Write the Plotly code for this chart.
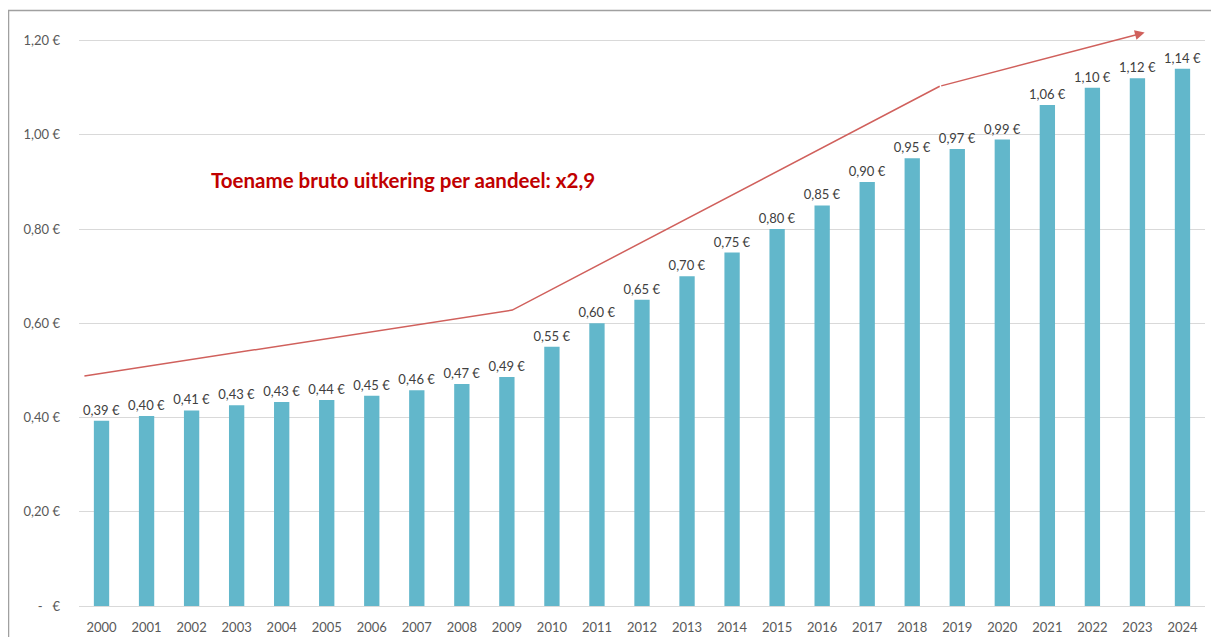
import plotly.graph_objects as go

years = [str(y) for y in range(2000, 2025)]
dividend = [0.393, 0.403, 0.415, 0.426, 0.433, 0.437, 0.446, 0.458, 0.471, 0.486,
            0.55, 0.60, 0.65, 0.70, 0.75, 0.80, 0.85, 0.90, 0.95, 0.97,
            0.99, 1.063, 1.10, 1.12, 1.14]
bar_labels = [f"{v:.2f}".replace(".", ",") + " €" for v in dividend]

y_tickvals = [0, 0.2, 0.4, 0.6, 0.8, 1.0, 1.2]
y_ticktext = ["-   €", "0,20 €", "0,40 €", "0,60 €", "0,80 €", "1,00 €", "1,20 €"]

# hand-drawn trend arrow (x in category index units, y in euro)
trend_x = [-0.38, 9.12, 18.61]
trend_y = [0.488, 0.628, 1.103]
arrow_tip = (23.16, 1.217)

title_text = "Toename bruto uitkering per aandeel: x2,9"

FONT = "Lato"

fig = go.Figure()
fig.add_trace(go.Bar(
    x=list(range(len(years))), y=dividend,
    marker=dict(color="#62B7CB", line=dict(width=0)),
    width=0.34,
    text=bar_labels, textposition="outside", constraintext="none",
    textfont=dict(family=FONT, size=13, color="#404040"),
    cliponaxis=False, hoverinfo="skip",
))
fig.add_trace(go.Scatter(
    x=trend_x, y=trend_y, mode="lines",
    line=dict(color="#D0605C", width=1.5),
    cliponaxis=False, hoverinfo="skip",
))
fig.add_annotation(
    x=arrow_tip[0], y=arrow_tip[1], ax=trend_x[-1], ay=trend_y[-1],
    xref="x", yref="y", axref="x", ayref="y",
    showarrow=True, arrowhead=2, arrowsize=1.3, arrowwidth=1.5,
    arrowcolor="#D0605C", text="",
)
fig.add_annotation(
    x=6.70, y=0.905, xref="x", yref="y", text=f"<b>{title_text}</b>",
    showarrow=False, font=dict(family=FONT, size=20.5, color="#C00000"),
)
# outer chart border (partially cropped)
fig.add_shape(type="rect", xref="paper", yref="paper",
              x0=-0.0626, x1=1.05, y0=-0.2, y1=1.0112,
              line=dict(color="#A0A0A0", width=1.5))

fig.update_layout(
    width=1211, height=629,
    margin=dict(l=70.5, r=13.5, t=8.6, b=31),
    paper_bgcolor="white", plot_bgcolor="white",
    showlegend=False,
    font=dict(family=FONT, size=13, color="#595959"),
)
fig.update_xaxes(
    range=[-0.5, 24.5], tickvals=list(range(len(years))), ticktext=years,
    showgrid=False, showline=True, linecolor="#D9D9D9", linewidth=1,
    ticks="", ticklabelstandoff=9, automargin=False,
    tickfont=dict(family=FONT, size=13, color="#595959"),
    zeroline=False,
)
fig.update_yaxes(
    range=[0, 1.25], tickvals=y_tickvals, ticktext=y_ticktext,
    showgrid=True, gridcolor="#D9D9D9", gridwidth=1,
    zeroline=False, ticks="", ticklabelstandoff=18, automargin=False,
    tickfont=dict(family=FONT, size=13, color="#595959"),
)

fig.write_html("out.html")
